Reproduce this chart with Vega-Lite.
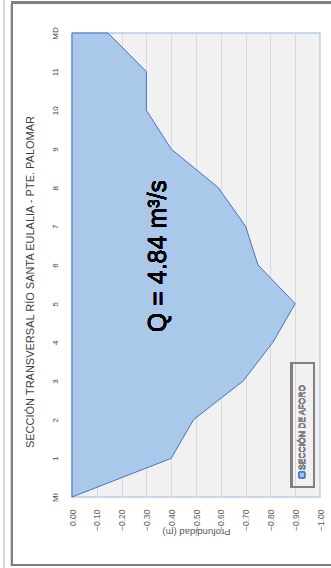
{
  "$schema": "https://vega.github.io/schema/vega-lite/v6.json",
  "width": 248,
  "height": 464,
  "autosize": "none",
  "padding": {"left": 72, "top": 33, "right": 11, "bottom": 71},
  "background": "white",
  "title": {
    "text": "SECCIÓN TRANSVERSAL RÍO SANTA EULALIA - PTE. PALOMAR",
    "orient": "left",
    "anchor": "middle",
    "font": "Liberation Sans",
    "fontSize": 11,
    "fontWeight": "normal",
    "color": "#404040",
    "offset": -32,
    "dx": -17
  },
  "config": {
    "view": {"fill": "#f1f1f1", "stroke": "#b9cde5", "strokeWidth": 1.5},
    "font": "Liberation Sans"
  },
  "data": {
    "values": [
      {"dist": 0, "prof": 0.0},
      {"dist": 1, "prof": -0.40},
      {"dist": 2, "prof": -0.49},
      {"dist": 3, "prof": -0.69},
      {"dist": 4, "prof": -0.81},
      {"dist": 5, "prof": -0.90},
      {"dist": 6, "prof": -0.75},
      {"dist": 7, "prof": -0.70},
      {"dist": 8, "prof": -0.59},
      {"dist": 9, "prof": -0.40},
      {"dist": 10, "prof": -0.30},
      {"dist": 11, "prof": -0.30},
      {"dist": 12, "prof": -0.145}
    ]
  },
  "encoding": {
    "y": {
      "field": "dist",
      "type": "quantitative",
      "scale": {"domain": [0, 12], "nice": false, "zero": false},
      "axis": {
        "values": [0, 1, 2, 3, 4, 5, 6, 7, 8, 9, 10, 11, 12],
        "labelExpr": "datum.value == 0 ? 'MI' : datum.value == 12 ? 'MD' : datum.label",
        "labelAngle": 270,
        "labelFont": "Liberation Sans",
        "labelFontSize": 8,
        "labelColor": "#404040",
        "labelPadding": 13,
        "domain": false,
        "ticks": false,
        "grid": false,
        "title": null
      }
    },
    "x": {
      "field": "prof",
      "type": "quantitative",
      "scale": {"domain": [-1, 0], "reverse": true, "nice": false},
      "axis": {
        "values": [-1, -0.9, -0.8, -0.7, -0.6, -0.5, -0.4, -0.3, -0.2, -0.1, 0],
        "format": ".2f",
        "labelAngle": 270,
        "labelFont": "Liberation Sans",
        "labelFontSize": 8.5,
        "labelColor": "#595959",
        "labelPadding": 12,
        "domain": false,
        "ticks": false,
        "grid": true,
        "gridColor": "#d9d9d9",
        "gridWidth": 1,
        "title": "Profundidad (m)",
        "titleFont": "Liberation Sans",
        "titleAngle": 180,
        "titleFontSize": 9.5,
        "titleFontWeight": "normal",
        "titleColor": "#595959",
        "titlePadding": 6
      }
    }
  },
  "layer": [
    {
      "mark": {"type": "area", "orient": "horizontal", "fill": "#a9c8ea", "stroke": "#4472c4", "strokeWidth": 1}
    },
    {
      "mark": {"type": "text", "angle": 270, "align": "center", "baseline": "middle", "font": "Liberation Sans", "fontSize": 25, "color": "#000000"},
      "encoding": {
        "x": {"datum": -0.345},
        "y": {"datum": 6.23},
        "text": {"value": "Q = 4.84 m³/s"}
      }
    },
    {
      "mark": {"type": "rect", "fill": null, "stroke": "#808080", "strokeWidth": 1.5},
      "encoding": {
        "x": {"datum": -0.885},
        "x2": {"datum": -0.975},
        "y": {"datum": 3.47},
        "y2": {"datum": 0.26}
      }
    },
    {
      "mark": {"type": "point", "shape": "square", "filled": true, "size": 30, "fill": "#9dc3e6", "stroke": "#4472c4", "strokeWidth": 1},
      "encoding": {
        "x": {"datum": -0.927},
        "y": {"datum": 0.57}
      }
    },
    {
      "mark": {"type": "text", "angle": 270, "align": "left", "baseline": "middle", "font": "Liberation Sans", "fontSize": 8.5, "color": "#7f7f7f"},
      "encoding": {
        "x": {"datum": -0.927},
        "y": {"datum": 0.7},
        "text": {"value": "SECCIÓN DE AFORO"}
      }
    },
    {
      "mark": {"type": "rect", "fill": null, "stroke": "#7f7f7f", "strokeWidth": 2, "clip": false},
      "encoding": {
        "x": {"datum": 0.242},
        "x2": {"datum": -1.1},
        "y": {"datum": 12.78},
        "y2": {"datum": -1.76}
      }
    },
    {
      "mark": {"type": "rule", "stroke": "#d9d9d9", "strokeWidth": 1, "clip": false},
      "encoding": {
        "x": {"datum": 0.274},
        "y": {"datum": 12.85},
        "y2": {"datum": -1.85}
      }
    }
  ]
}
